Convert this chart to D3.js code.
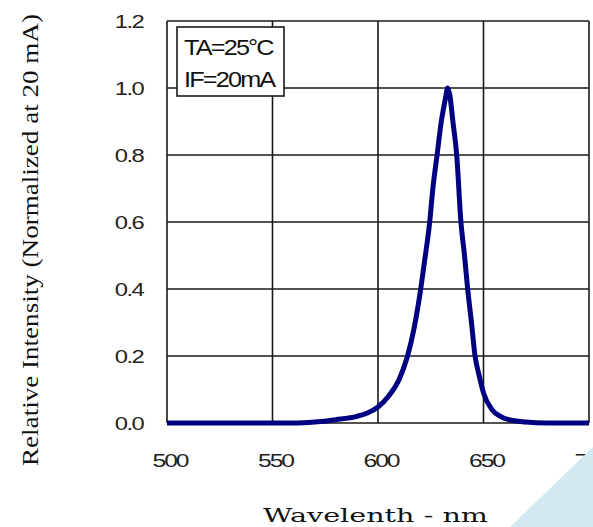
<!DOCTYPE html>
<html>
<head>
<meta charset="utf-8">
<script src="https://cdn.jsdelivr.net/npm/d3@7"></script>
<style>
  body { margin: 0; background: #fff; }
  svg { display: block; }
</style>
</head>
<body>
<svg id="chart" width="593" height="527"></svg>
<script>
// spectrum
const wavelength = [500, 560, 570, 580, 590, 595, 600, 605, 610, 614, 617, 620, 622, 624.5, 626, 628, 630, 632, 633,
  634, 635.5, 637.3, 639.3, 641, 642.5, 644.3, 646, 648, 650, 654, 658, 662, 670, 680, 700];
const intensity = [0, 0, 0.003, 0.01, 0.02, 0.03, 0.048, 0.08, 0.13, 0.2, 0.28, 0.39, 0.48, 0.6, 0.7, 0.8, 0.9, 0.97, 1.0,
  0.98, 0.9, 0.8, 0.6, 0.5, 0.4, 0.3, 0.2, 0.14, 0.09, 0.04, 0.02, 0.01, 0.003, 0, 0];
const xTicks = [500, 550, 600, 650, 700];
const yTicks = [0, 0.2, 0.4, 0.6, 0.8, 1.0, 1.2];
const legendLines = ["TA=25°C", "IF=20mA"];

const data = wavelength.map((w, i) => ({ w, v: intensity[i] }));

const svg = d3.select("#chart");
const margin = { top: 21, right: 4, bottom: 104, left: 167 };
const width = 593, height = 527;

const x = d3.scaleLinear().domain([500, 700]).range([margin.left, width - margin.right]);
const y = d3.scaleLinear().domain([0, 1.2]).range([height - margin.bottom, margin.top]);

const sans = "Liberation Sans, Arial, sans-serif";

// grid
const grid = svg.append("g").attr("stroke", "#1a1a1a").attr("stroke-width", 1.6);
grid.selectAll(".vx").data(xTicks).join("line")
  .attr("x1", d => x(d)).attr("x2", d => x(d))
  .attr("y1", y(0)).attr("y2", y(1.2));
grid.selectAll(".hy").data(yTicks).join("line")
  .attr("x1", x(500)).attr("x2", x(700))
  .attr("y1", d => y(d)).attr("y2", d => y(d));

// tick labels: wide glyphs set tight, as in the scanned sheet
svg.append("g").selectAll("text").data(yTicks).join("text")
  .attr("transform", d => `translate(143,${y(d)}) scale(1.25,1)`)
  .attr("dy", "0.36em")
  .attr("text-anchor", "end")
  .attr("font-family", sans).attr("letter-spacing", -1.3)
  .attr("font-size", 19).attr("fill", "#222")
  .text(d => d.toFixed(1));

svg.append("g").selectAll("text").data(xTicks).join("text")
  .attr("transform", d => `translate(${x(d) + 3},460) scale(1.3,1)`)
  .attr("dy", "0.36em")
  .attr("text-anchor", "middle")
  .attr("font-family", sans).attr("letter-spacing", -1.6)
  .attr("font-size", 19).attr("fill", "#222")
  .text(d => d);

// curve
const line = d3.line().x(d => x(d.w)).y(d => y(d.v)).curve(d3.curveMonotoneX);
svg.append("path").datum(data)
  .attr("d", line)
  .attr("fill", "none")
  .attr("stroke", "#000080")
  .attr("stroke-width", 5)
  .attr("stroke-linejoin", "round");

// legend box
const lg = svg.append("g");
lg.append("rect")
  .attr("x", 177).attr("y", 27).attr("width", 107).attr("height", 69)
  .attr("fill", "#fff").attr("stroke", "#1a1a1a").attr("stroke-width", 1.6);
lg.selectAll("text").data(legendLines).join("text")
  .attr("transform", (d, i) => `translate(184,${55 + i * 32}) scale(1.15,1)`)
  .attr("font-family", sans).attr("letter-spacing", -1.6)
  .attr("font-size", 22).attr("fill", "#111")
  .text(d => d);

// axis titles
svg.append("text")
  .attr("transform", "translate(38,240) rotate(-90)")
  .attr("text-anchor", "middle")
  .attr("textLength", 452).attr("lengthAdjust", "spacingAndGlyphs")
  .attr("font-family", "Liberation Serif, Times New Roman, serif")
  .attr("font-size", 24).attr("fill", "#111")
  .text("Relative Intensity (Normalized at 20 mA)");

svg.append("text")
  .attr("x", 263).attr("y", 522)
  .attr("textLength", 225).attr("lengthAdjust", "spacingAndGlyphs")
  .attr("font-family", "DejaVu Serif, serif")
  .attr("font-size", 19).attr("fill", "#111")
  .text("Wavelenth - nm");

// light blue corner
svg.append("path")
  .attr("d", `M510,${height} L${width},447 L${width},${height} Z`)
  .attr("fill", "#d2e9f1");
</script>
</body>
</html>
